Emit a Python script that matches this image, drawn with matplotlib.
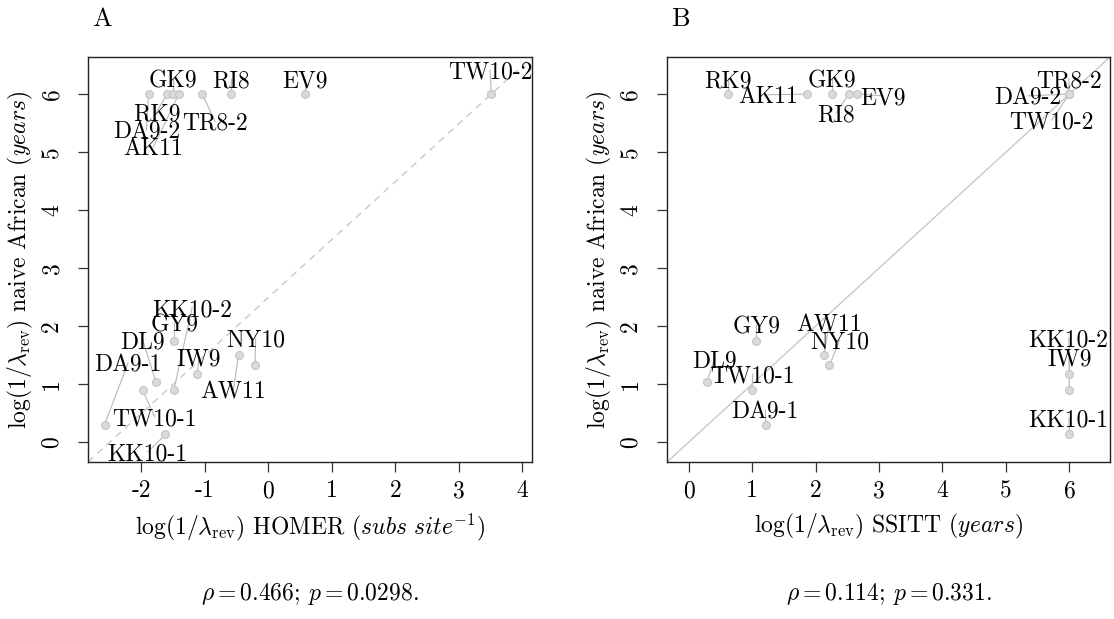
import matplotlib
matplotlib.use('Agg')
import matplotlib.pyplot as plt

plt.rcParams['font.family'] = 'cmr10'
plt.rcParams['mathtext.fontset'] = 'cm'
plt.rcParams['axes.unicode_minus'] = False
plt.rcParams['axes.formatter.use_mathtext'] = True

# ---------------- data ----------------
names = ['DA9-2', 'RK9', 'GK9', 'AK11', 'TR8-2', 'RI8', 'EV9', 'TW10-2',
         'DA9-1', 'TW10-1', 'DL9', 'GY9', 'KK10-2', 'IW9', 'AW11', 'NY10', 'KK10-1']
naive_african = [6.0, 6.0, 6.0, 6.0, 6.0, 6.0, 6.0, 6.0,
                 0.30, 0.89, 1.04, 1.75, 0.89, 1.18, 1.50, 1.32, 0.13]
homer = [-1.885, -1.595, -1.50, -1.41, -1.04, -0.59, 0.57, 3.51,
         -2.58, -1.98, -1.77, -1.48, -1.49, -1.12, -0.47, -0.21, -1.62]
ssitt = [6.0, 0.62, 2.26, 1.87, 6.0, 2.52, 2.66, 6.0,
         1.22, 1.00, 0.29, 1.07, 6.0, 6.0, 2.13, 2.22, 6.0]

# repelled label positions (data units)
labA_x = [-1.92, -1.76, -1.50, -1.81, -0.84, -0.59, 0.57, 3.49,
          -2.21, -1.79, -1.98, -1.48, -1.20, -1.09, -0.55, -0.20, -1.90]
labA_y = [5.38, 5.69, 6.26, 5.09, 5.53, 6.26, 6.26, 6.41,
          1.36, 0.44, 1.76, 2.05, 2.32, 1.47, 0.90, 1.79, -0.17]
labB_x = [5.35, 0.62, 2.26, 1.25, 5.99, 2.33, 3.06, 5.72,
          1.21, 1.01, 0.41, 1.07, 5.99, 6.00, 2.22, 2.38, 5.99]
labB_y = [5.97, 6.27, 6.27, 5.99, 6.27, 5.68, 5.97, 5.55,
          0.55, 1.17, 1.44, 2.02, 1.79, 1.47, 2.06, 1.76, 0.41]

xticksA = [-2, -1, 0, 1, 2, 3, 4]
xticklabelsA = ['-2', '-1', '0', '1', '2', '3', '4']
xticksB = [0, 1, 2, 3, 4, 5, 6]
xticklabelsB = ['0', '1', '2', '3', '4', '5', '6']
yticks = [0, 1, 2, 3, 4, 5, 6]
yticklabels = ['0', '1', '2', '3', '4', '5', '6']

statA = r'$\rho = 0.466$; $p = 0.0298$.'
statB = r'$\rho = 0.114$; $p = 0.331$.'

# ---------------- figure ----------------
W, H = 1114, 619
fig = plt.figure(figsize=(W / 100, H / 100), dpi=100)
axA = fig.add_axes([88 / W, 1 - 462 / H, 444 / W, 405 / H])
axB = fig.add_axes([667 / W, 1 - 462 / H, 443 / W, 405 / H])

FS = 17
pt_face = '#dadada'
pt_edge = '#c4c4c4'
seg_col = '#b8b8b8'


def panel(ax, xs, ys, lx, ly, xlim, xt, xtl, xlabel, diag_style, stat, letter):
    ax.set_xlim(*xlim)
    ax.set_ylim(-0.345, 6.64)
    ax.plot([0, 1], [0, 1], transform=ax.transAxes, color='#c8c8c8', lw=1.0,
            linestyle=diag_style, dashes=(5, 4) if diag_style == '--' else (None, None),
            zorder=1)
    for x, y, tx, ty in zip(xs, ys, lx, ly):
        ax.plot([x, tx], [y, ty], color=seg_col, lw=0.8, zorder=2)
    ax.scatter(xs, ys, s=32, facecolor=pt_face, edgecolor=pt_edge, linewidths=0.8, zorder=3)
    for n, tx, ty in zip(names, lx, ly):
        ax.text(tx, ty, n, fontsize=FS, ha='center', va='center_baseline', zorder=4,
                clip_on=False)
    ax.set_xticks(xt)
    ax.set_xticklabels(xtl)
    ax.set_yticks(yticks)
    ax.set_yticklabels(yticklabels, rotation=90, va='center')
    ax.tick_params(direction='out', length=7, width=0.9, labelsize=FS, color='#333333')
    ax.tick_params(axis='x', pad=6)
    ax.tick_params(axis='y', pad=11)
    for s in ax.spines.values():
        s.set_linewidth(1.0)
        s.set_color('#222222')
    ax.set_xlabel(xlabel, fontsize=FS, labelpad=7)
    ax.set_ylabel(r'$\log(1/\lambda_{\mathrm{rev}})$ naive African ($years$)', fontsize=FS, labelpad=4)
    pos = ax.get_position()
    fig.text((pos.x0 + pos.x1) / 2, 0.040, stat, fontsize=FS, ha='center', va='center')
    fig.text(pos.x0 + 4 / W, 1 - 26 / H, letter, fontsize=19, ha='left', va='baseline')


panel(axA, homer, naive_african, labA_x, labA_y, (-2.84, 4.15), xticksA, xticklabelsA,
      r'$\log(1/\lambda_{\mathrm{rev}})$ HOMER ($subs\ site^{-1}$)', '--', statA, 'A')
panel(axB, ssitt, naive_african, labB_x, labB_y, (-0.34, 6.64), xticksB, xticklabelsB,
      r'$\log(1/\lambda_{\mathrm{rev}})$ SSITT ($years$)', '-', statB, 'B')

fig.savefig('out.png', dpi=100)
